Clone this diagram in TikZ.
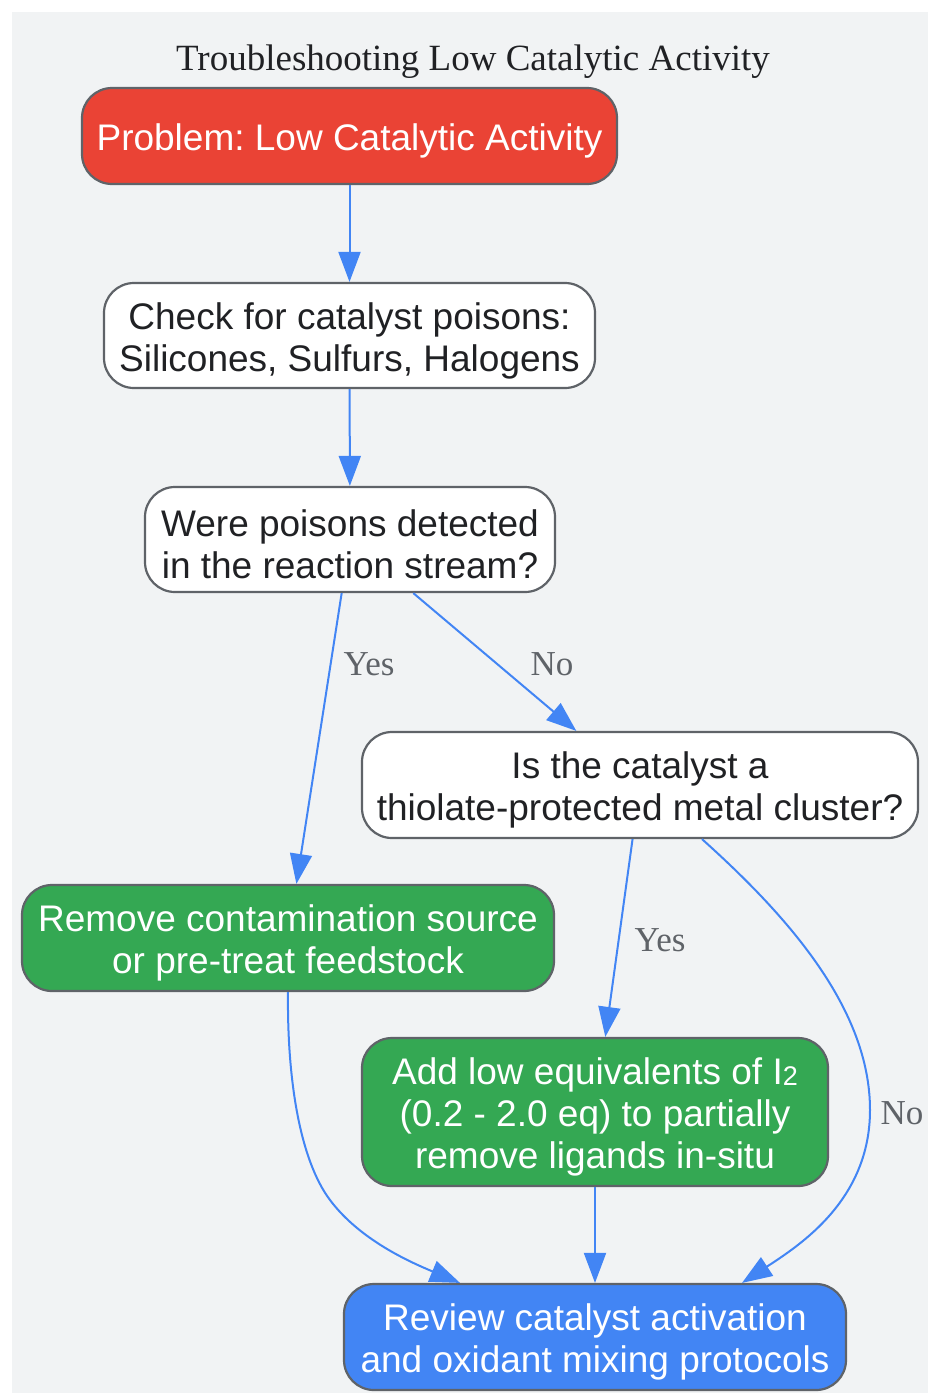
\documentclass[tikz,border=0pt]{standalone}
\usepackage{fontspec}
\setmainfont{Liberation Serif}
\newfontfamily\nodefont{Liberation Sans}
\usetikzlibrary{arrows.meta,calc}
\frenchspacing
\definecolor{bg}{HTML}{F1F3F4}
\definecolor{bordergray}{HTML}{5F6368}
\definecolor{txt}{HTML}{202124}
\definecolor{gred}{HTML}{EA4335}
\definecolor{ggreen}{HTML}{34A853}
\definecolor{gblue}{HTML}{4285F4}
\tikzset{
  box/.style={draw=bordergray, line width=2.2pt, rounded corners=30pt, inner sep=0pt, fill=white},
  redbox/.style={box, fill=gred},
  greenbox/.style={box, fill=ggreen},
  bluebox/.style={box, fill=gblue},
  boxtext/.style={inner sep=0pt, align=center, font=\nodefont\fontsize{37}{42}\selectfont\frenchspacing, text=txt},
  whitetext/.style={boxtext, text=white},
  conn/.style={draw=gblue, line width=2pt, -{Triangle[length=30pt,width=22pt]}},
  elabel/.style={text=bordergray, font=\fontsize{35}{40}\selectfont},
}
\begin{document}
\begin{tikzpicture}[x=1pt,y=-1pt]
\useasboundingbox (0,0) rectangle (928,1393);
\fill[bg] (12,12) rectangle (928,1393);
\node[text=txt, font=\fontsize{37}{42}\selectfont] (title) at (473,62) {Troubleshooting Low Catalytic Activity};

\node[redbox, minimum width=535pt, minimum height=96pt] (problem) at (349.5,136) {};
\node[whitetext] (problemtext) at ($(problem)+(0,5)$) {Problem: Low Catalytic Activity};

\node[box, minimum width=491pt, minimum height=105pt] (check) at (349.5,335.5) {};
\node[boxtext] (checktext) at ($(check)+(0,5)$) {Check for catalyst poisons:\\Silicones, Sulfurs, Halogens};

\node[box, minimum width=410pt, minimum height=105pt] (were) at (350,539.5) {};
\node[boxtext] (weretext) at ($(were)+(0,5)$) {Were poisons detected\\in the reaction stream?};

\node[box, minimum width=556pt, minimum height=106pt] (is) at (640,785) {};
\node[boxtext] (istext) at ($(is)+(0,5)$) {Is the catalyst a\\thiolate-protected metal cluster?};

\node[greenbox, minimum width=532pt, minimum height=106pt] (remove) at (288,938) {};
\node[whitetext] (removetext) at ($(remove)+(0,5)$) {Remove contamination source\\or pre-treat feedstock};

\node[greenbox, minimum width=466pt, minimum height=148pt] (add) at (595,1112) {};
\node[whitetext] (addtext) at ($(add)+(0,5)$) {Add low equivalents of I{\fontsize{27}{27}\selectfont\raisebox{-1pt}{2}}\\(0.2 - 2.0 eq) to partially\\remove ligands in-situ};

\node[bluebox, minimum width=502pt, minimum height=106pt] (review) at (595,1337) {};
\node[whitetext] (reviewtext) at ($(review)+(0,5)$) {Review catalyst activation\\and oxidant mixing protocols};

\draw[conn] (problem) -- (check);
\draw[conn] (check) -- (were);
\draw[conn] (were) -- (remove);
\draw[conn] (were) -- (is);
\draw[conn] (is) -- (add);
\draw[conn] (add) -- (review);
\draw[conn] ($(is.south)+(62,0)$) .. controls (790,918) and (870,1010) .. (870,1110)
  .. controls (870,1200) and (800,1245) .. ($(review.north)+(147,0)$);
\draw[conn] (remove.south) .. controls (287,1080) and (300,1160) .. (330,1200)
  .. controls (360,1240) and (410,1262) .. ($(review.north)+(-135,0)$);

\node[elabel] (l1) at (369,664) {Yes};
\node[elabel] (l2) at (552,664) {No};
\node[elabel] (l3) at (660,940) {Yes};
\node[elabel] (l4) at (902,1113) {No};
\end{tikzpicture}
\end{document}
